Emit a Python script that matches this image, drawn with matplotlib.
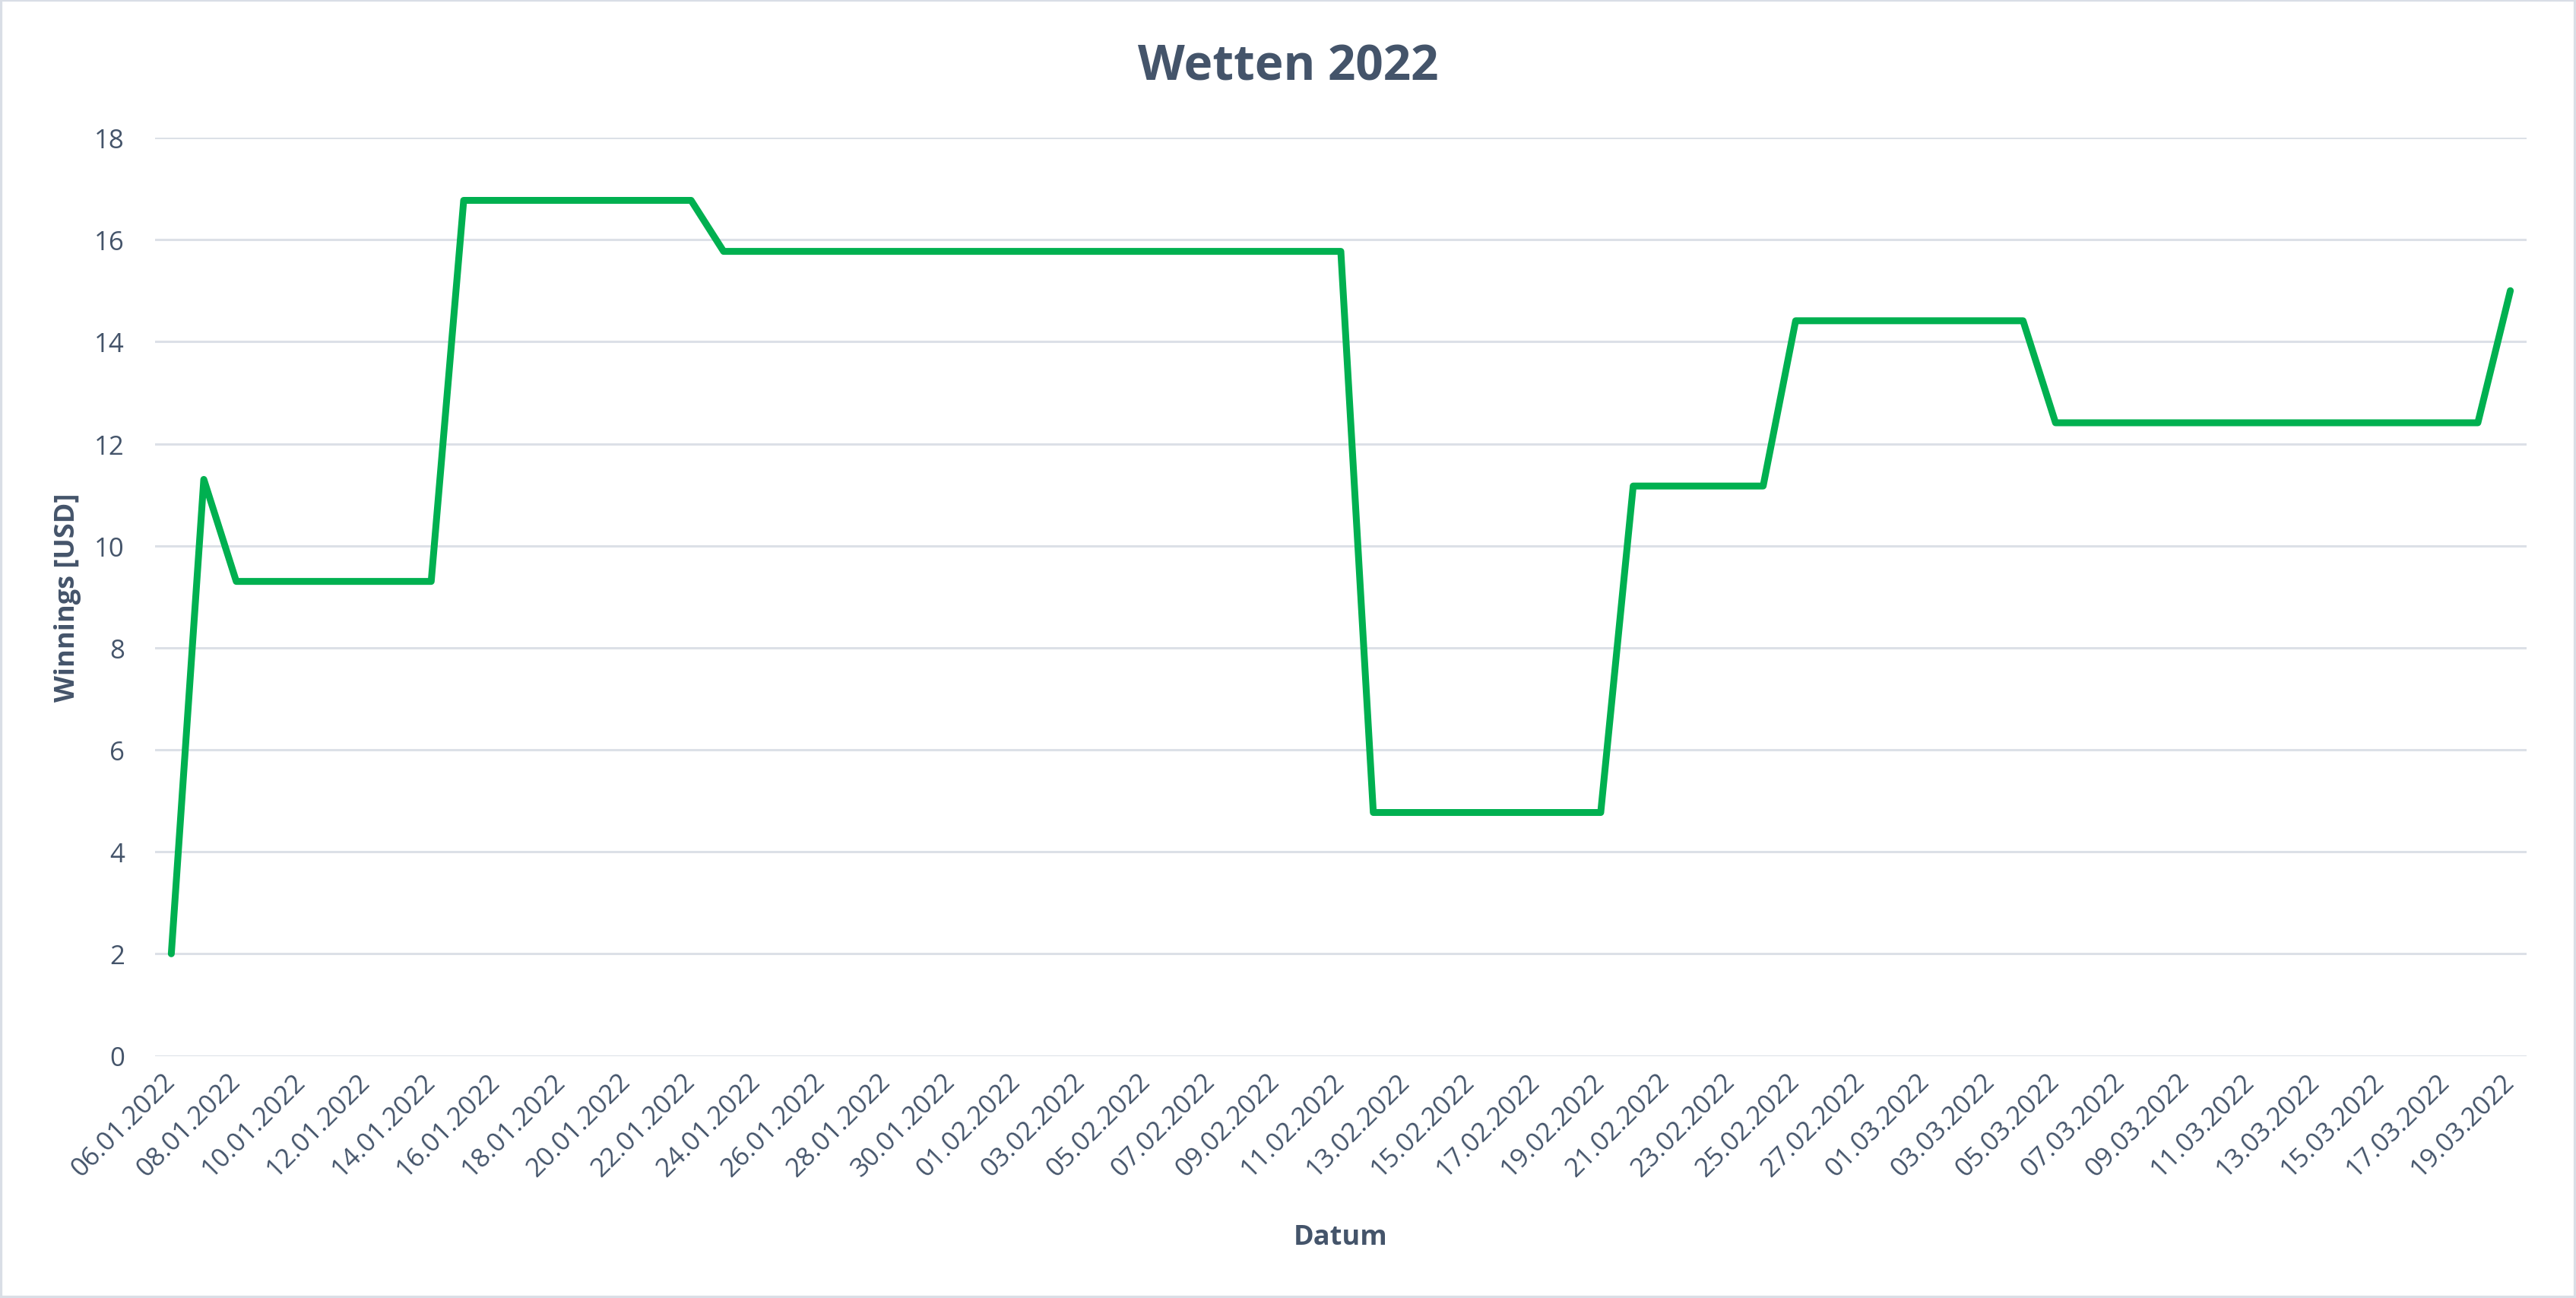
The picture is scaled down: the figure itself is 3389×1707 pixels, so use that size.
import datetime as dt
import matplotlib
matplotlib.use('Agg')
import matplotlib.pyplot as plt
import matplotlib.dates as mdates
from matplotlib.patches import Rectangle
import numpy as np

# data (change points of the daily winnings curve)
dates = ['06.01.2022', '07.01.2022', '08.01.2022', '14.01.2022', '15.01.2022',
         '22.01.2022', '23.01.2022', '11.02.2022', '12.02.2022', '19.02.2022',
         '20.02.2022', '24.02.2022', '25.02.2022', '04.03.2022', '05.03.2022',
         '18.03.2022', '19.03.2022']
winnings = [2.0, 11.3, 9.3, 9.3, 16.77,
            16.77, 15.77, 15.77, 4.77, 4.77,
            11.17, 11.17, 14.41, 14.41, 12.41,
            12.41, 15.0]

title = 'Wetten 2022'
x_label = 'Datum'
y_label = 'Winnings [USD]'

TEXT = '#44546A'
GREEN = '#00B050'
GRID = '#DCE0E7'

plt.rcParams['font.family'] = ['Open Sans', 'DejaVu Sans']

W, H = 3389, 1708
fig = plt.figure(figsize=(W / 100, H / 100), dpi=100)
ax = fig.add_axes([204 / W, 1 - 1389.5 / H, (3324 - 204) / W, (1389.5 - 182) / H])

x = [mdates.date2num(dt.datetime.strptime(d, '%d.%m.%Y')) for d in dates]
ax.plot(x, winnings, color=GREEN, lw=6.5, solid_joinstyle='round',
        solid_capstyle='round', zorder=3, clip_on=False)

ax.set_xlim(x[0] - 0.5, x[-1] + 0.5)
ax.set_ylim(0, 18)
ax.set_yticks(np.arange(0, 19, 2))
ax.set_xticks(np.arange(x[0], x[-1] + 1, 2))
ax.xaxis.set_major_formatter(mdates.DateFormatter('%d.%m.%Y'))

ax.grid(axis='y', color=GRID, lw=2.2, zorder=0)
ax.set_axisbelow(True)
for s in ax.spines.values():
    s.set_visible(False)

ax.tick_params(axis='y', length=0, pad=29, labelsize=25, labelcolor=TEXT)
ax.tick_params(axis='x', length=0, pad=20, labelsize=25, labelcolor=TEXT)
for lab in ax.get_xticklabels():
    lab.set_rotation(45)
    lab.set_rotation_mode('anchor')
    lab.set_ha('right')
    lab.set_va('center')

fig.text(0.5, 1 - 105 / H, title, ha='center', va='baseline',
         fontsize=46, fontweight='bold', color=TEXT)
fig.text(1764 / W, 1 - 1637 / H, x_label, ha='center', va='baseline',
         fontsize=26, fontweight='bold', color=TEXT)
fig.text(98 / W, 1 - 786 / H, y_label, ha='center', va='baseline',
         rotation=90, rotation_mode='anchor',
         fontsize=26, fontweight='bold', color=TEXT)

fig.patches.append(Rectangle((0, 0), 1, 1, transform=fig.transFigure,
                             fill=False, edgecolor='#D9DEE6', lw=4.5))

fig.savefig('out.png', dpi=100, facecolor='white')
